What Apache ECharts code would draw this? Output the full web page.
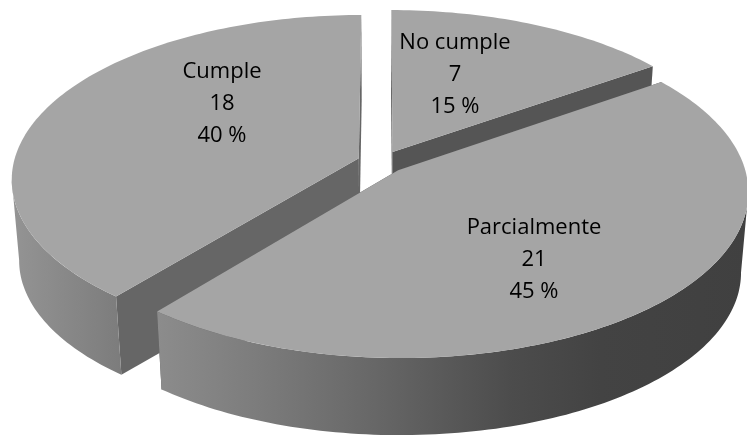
<!DOCTYPE html>
<html>
<head>
<meta charset="utf-8">
<style>html,body{margin:0;padding:0;background:#fff}#c{width:747px;height:438px}</style>
<script src="https://cdn.jsdelivr.net/npm/echarts@6/dist/echarts.min.js"></script>
</head>
<body>
<div id="c"></div>
<script>
// Survey results
const categories = ['No cumple', 'Parcialmente', 'Cumple'];
const counts = [7, 21, 18];
const percentLabels = ['15 %', '45 %', '40 %'];

// Projection of the tilted disc onto the page
const CX = 381.5, CY = 162, RX = 345, RY = 162, PERSP = 0.125;
const EXPLODE = 0.07, DEPTH = 81, BASE_SHRINK = 0.98;
const TOP_COLOR = '#a5a5a5';

// Per-slice face shading
const cutColors = ['#555555', '#555555', '#666666'];
const wallStops = [
  [[0, '#808080'], [1, '#808080']],
  [[0, '#8c8c8c'], [0.15, '#7e7e7e'], [0.35, '#696969'], [0.6, '#4c4c4c'], [0.75, '#434343'], [1, '#404040']],
  [[0, '#949494'], [1, '#7c7c7c']]
];
const labelCentres = [[455, 75], [534, 260], [222, 104]];

const total = counts.reduce((a, b) => a + b, 0);
const starts = [];
counts.reduce((acc, v, i) => { starts[i] = acc; return acc + v; }, 0);

function project(u, v, low) {
  const s = 1 / (1 - PERSP * v);
  let x = CX + RX * u * s;
  let y = CY + RY * v * s;
  if (low) {
    x = CX + (x - CX) * BASE_SHRINK;
    y = CY + (y - CY) * BASE_SHRINK + DEPTH;
  }
  return [x, y];
}

function renderSlice(params) {
  const i = params.dataIndex;
  const a0 = starts[i] / total * Math.PI * 2;
  const a1 = (starts[i] + counts[i]) / total * Math.PI * 2;
  const mid = (a0 + a1) / 2;
  const ox = Math.sin(mid) * EXPLODE, oy = -Math.cos(mid) * EXPLODE;
  const at = (a, r, low) => project(ox + Math.sin(a) * r, oy - Math.cos(a) * r, low);
  const arc = (from, to, low) => {
    const pts = [];
    const n = Math.max(2, Math.ceil((to - from) / 0.02));
    for (let k = 0; k <= n; k++) pts.push(at(from + (to - from) * k / n, 1, low));
    return pts;
  };
  // Angle where the rim turns back horizontally, so the wall ends on the silhouette
  const extreme = (from, to, sign) => {
    let best = from, bestX = -Infinity;
    for (let a = from; a <= to; a += 0.005) {
      const x = at(a, 1, false)[0] * sign;
      if (x > bestX) { bestX = x; best = a; }
    }
    return best;
  };
  const depthOrder = Math.round(100 - 50 * Math.cos(mid));
  const children = [];

  // Cut faces along both straight edges
  [a0, a1].forEach(a => {
    children.push({
      type: 'polygon', z2: depthOrder,
      shape: { points: [at(a, 0, false), at(a, 1, false), at(a, 1, true), at(a, 0, true)] },
      style: { fill: cutColors[i] }
    });
  });

  // Outer wall, only the part turned towards the viewer
  const quarter = Math.PI / 2;
  const w0 = a0 < quarter && a1 > quarter ? extreme(a0, Math.PI, 1) : Math.max(a0, quarter);
  const w1 = a0 < 3 * quarter && a1 > 3 * quarter ? extreme(Math.PI, a1, -1) : Math.min(a1, 3 * quarter);
  if (w1 > w0) {
    const upper = arc(w0, w1, false), lower = arc(w0, w1, true).reverse();
    const xs = upper.concat(lower).map(p => p[0]);
    const xMin = Math.min.apply(null, xs), xMax = Math.max.apply(null, xs);
    children.push({
      type: 'polygon', z2: depthOrder + 1,
      shape: { points: upper.concat(lower) },
      style: {
        fill: {
          type: 'linear', x: xMin, y: 0, x2: xMax, y2: 0, global: true,
          colorStops: wallStops[i].map(s => ({ offset: s[0], color: s[1] }))
        }
      }
    });
  }

  // Top surface
  children.push({
    type: 'polygon', z2: depthOrder + 2,
    shape: { points: [at(a0, 0, false)].concat(arc(a0, a1, false)) },
    style: { fill: TOP_COLOR }
  });

  // Label
  children.push({
    type: 'text', z2: 1000,
    style: {
      x: labelCentres[i][0], y: labelCentres[i][1],
      text: categories[i] + '\n' + counts[i] + '\n' + percentLabels[i],
      align: 'center', verticalAlign: 'middle',
      font: '22px "Open Sans"', lineHeight: 32, fill: '#000'
    }
  });
  return { type: 'group', children };
}

const chart = echarts.init(document.getElementById('c'), null, { renderer: 'canvas' });
chart.setOption({
  animation: false,
  backgroundColor: '#fff',
  series: [{
    type: 'custom',
    coordinateSystem: 'none',
    silent: true,
    clip: false,
    data: counts.map((v, i) => ({ name: categories[i], value: v })),
    renderItem: renderSlice
  }]
});
</script>
</body>
</html>
